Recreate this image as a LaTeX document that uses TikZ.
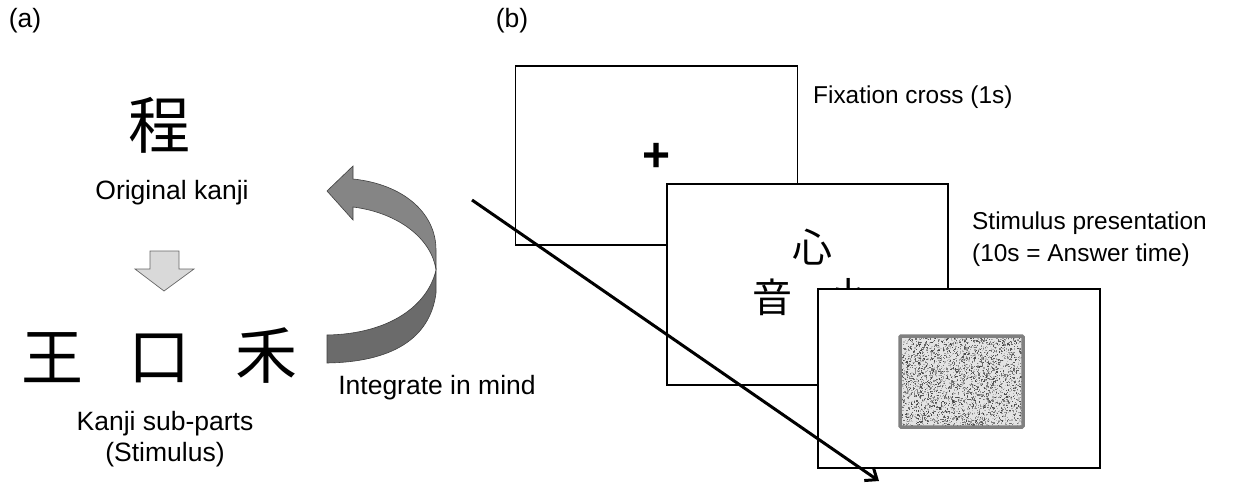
\documentclass[tikz,border=0pt]{standalone}
\usepackage{fontspec}
\setmainfont{Liberation Sans}
\newfontfamily\cjk{Noto Sans CJK JP}
\usetikzlibrary{arrows.meta}
\tikzset{
  lbl/.style={font=\fontsize{26.5}{31}\selectfont, inner sep=0pt, align=center},
  rlbl/.style={font=\fontsize{24.4}{32}\selectfont, inner sep=0pt, align=left, anchor=west},
  kanji/.style={font=\cjk\fontsize{62}{62}\selectfont, inner sep=0pt},
  smallkanji/.style={font=\cjk\fontsize{40}{40}\selectfont, inner sep=0pt},
  frame/.style={draw=black, line width=1.4pt, fill=white},
}
\begin{document}
\begin{tikzpicture}[x=1pt,y=-1pt]
\useasboundingbox (0,0) rectangle (1245,482);
% panel labels
\node[lbl] (pa) at (25,21) {(a)};
\node[lbl] (pb) at (512,21) {(b)};
% (a)
\node[kanji] (orig) at (159,125) {程};
\node[lbl] (origlbl) at (172,193) {Original kanji};
\draw[draw=gray!80!black, fill=gray!30, line width=0.7pt]
  (150,251) -- (179,251) -- (179,269) -- (194,269) -- (164,291) -- (135,269) -- (150,269) -- cycle;
\node[kanji] (p1) at (52,358) {王};
\node[kanji] (p2) at (159,358) {口};
\node[kanji] (p3) at (266,356) {禾};
\node[lbl] (sublbl) at (165,439) {Kanji sub-parts\\(Stimulus)};
% curved arrow
\draw[draw=black!75, fill=black!48, line width=0.6pt]
  (436,270) .. controls (432,240) and (400,213) .. (353,207)
  -- (353,220) -- (327,191) -- (353,166) -- (353,179)
  .. controls (402,184) and (436,212) .. (436,250) -- cycle;
\draw[draw=black!75, fill=black!58, line width=0.6pt]
  (327,335) .. controls (390,334) and (428,305) .. (436,270)
  -- (436,293) .. controls (430,340) and (390,362) .. (327,363) -- cycle;
\node[lbl] (integ) at (437,388) {Integrate in mind};
% (b)
\node[frame, minimum width=282pt, minimum height=179pt, inner sep=0pt] (f1) at (656.5,155.5) {};
\node[font=\bfseries\fontsize{48}{48}\selectfont, inner sep=0pt] (cross) at (657,157) {+};
\node[frame, minimum width=281pt, minimum height=201pt, inner sep=0pt] (f2) at (807.5,284.5) {};
\node[smallkanji] (k1) at (812,247) {心};
\node[smallkanji] (k2) at (772,297) {音};
\node[smallkanji] (k3) at (848,297) {小};
\node[frame, minimum width=282pt, minimum height=179pt, inner sep=0pt] (f3) at (959,378.5) {};
% noise
\fill[gray!22] (901,337) rectangle (1022,426);
\pgfmathsetseed{7}
\foreach \i in {1,...,3200}{
  \pgfmathsetmacro\xx{901+rnd*120}
  \pgfmathsetmacro\yy{337+rnd*88}
  \pgfmathtruncatemacro\gg{20+rnd*55}
  \fill[black!\gg] (\xx,\yy) rectangle ++(1.2,1.2);
}
\node[draw=gray, line width=3.5pt, rounded corners=1pt, minimum width=123pt, minimum height=91pt, inner sep=0pt] (noise) at (961.5,381.5) {};
\node[rlbl] (fixlbl) at (813,97) {Fixation cross (1s)};
\node[rlbl] (stimlbl) at (972,239) {Stimulus presentation\\(10s = Answer time)};
% timeline
\coordinate (tstart) at (472,200);
\coordinate (tend) at (879,481);
\draw[line width=3pt, -{Straight Barb[length=10pt,width=16pt]}] (tstart) -- (tend);
\end{tikzpicture}
\end{document}
